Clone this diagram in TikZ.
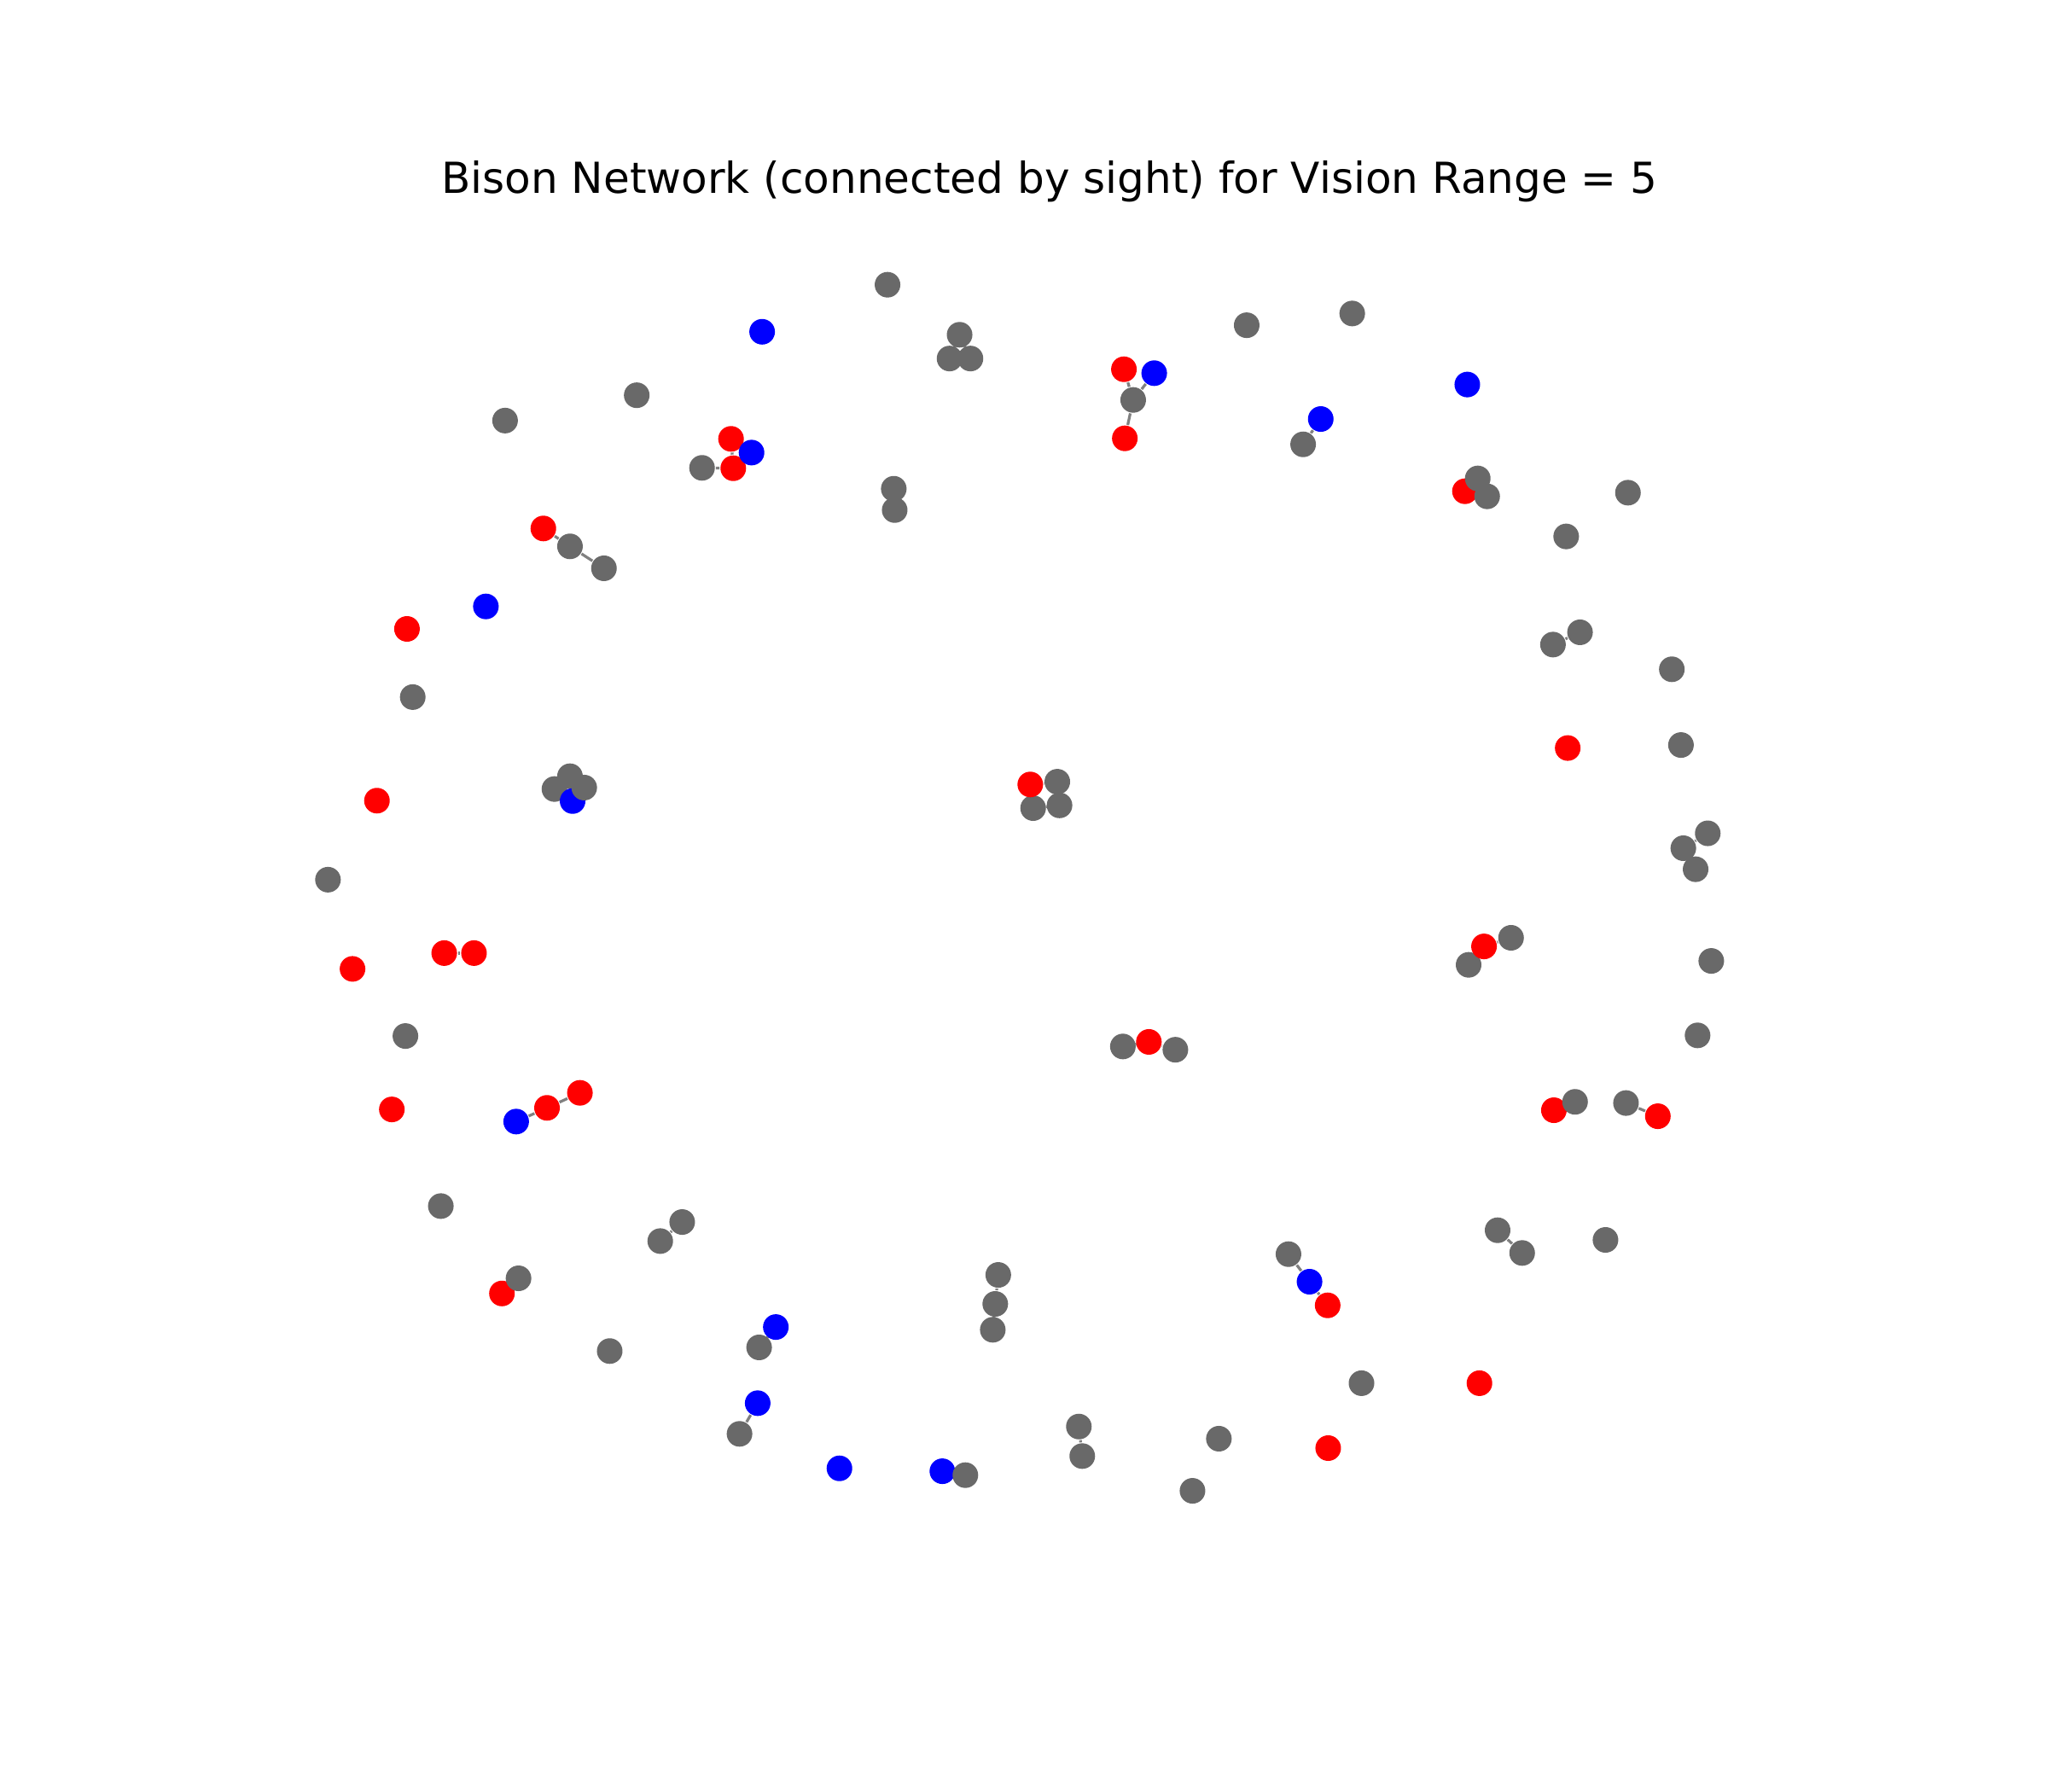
\documentclass[tikz,border=0pt]{standalone}
\usepackage{fontspec}
\setsansfont{DejaVu Sans}
\usetikzlibrary{backgrounds}
\definecolor{dimgrey}{HTML}{696969}

\begin{document}
\begin{tikzpicture}[x=0.01cm, y=-0.01cm,
  bison/.style={circle, inner sep=0pt, minimum size=0.196cm},
  link/.style={draw=gray, line width=0.6pt}]
  \useasboundingbox (0,0) rectangle (1568,1372);
  % titel
  \node[font=\sffamily\fontsize{9.3}{11}\selectfont, anchor=base] (title) at (803.5,148)
    {Bison Network (connected by sight) for Vision Range = 5};
  % bison (order = drawing order)
  \foreach \nm/\col/\px/\py in {
    g1/dimgrey/1124.4/738.7, g2/dimgrey/791/618.7, g3/dimgrey/424.5/604.1,
    g4/dimgrey/436.4/594.3, g5/dimgrey/581.2/1031.6,
    g6/dimgrey/679.5/218, g7/dimgrey/734.7/256.3, g8/dimgrey/727/274.5,
    g9/dimgrey/743/274.5, g10/dimgrey/487.5/302.6, g11/dimgrey/386.7/322,
    g12/dimgrey/537.5/358.2, g13/dimgrey/684.3/374.2, g14/dimgrey/685/390.5,
    g15/dimgrey/867.6/306.2, g16/dimgrey/954.5/249, g17/dimgrey/1035.3/240,
    g18/dimgrey/997.7/340.2, g19/dimgrey/1246.4/377.2, g20/dimgrey/1199.1/410.7,
    g21/dimgrey/1189/493.5, g22/dimgrey/1209.7/484.1, g23/dimgrey/1280/512.4,
    g24/dimgrey/1287/570.4, g25/dimgrey/1307.5/638, g26/dimgrey/1288.8/649.4,
    g27/dimgrey/1298.2/665.5, g28/dimgrey/1310.2/735.7, g29/dimgrey/1299.7/792.7,
    g30/dimgrey/859.7/801.2, g31/dimgrey/899.9/803.7, g32/dimgrey/1244.9/844.5,
    g33/dimgrey/1229.2/949.3, g34/dimgrey/1146.6/941.9, g35/dimgrey/1165.4/959.3,
    g36/dimgrey/986.5/960.2, g37/dimgrey/1042.4/1059, g38/dimgrey/933.2/1101.5,
    g39/dimgrey/913/1141.4, g40/dimgrey/826/1092.2, g41/dimgrey/828.6/1114.8,
    g42/dimgrey/764.3/976.1, g43/dimgrey/762/998.3, g44/dimgrey/760.1/1018.1,
    g45/dimgrey/566.2/1097.8, g46/dimgrey/466.8/1034.4, g47/dimgrey/522.3/935.6,
    g48/dimgrey/505.5/950.2, g49/dimgrey/337.5/923.4, g50/dimgrey/310.4/793.2,
    g51/dimgrey/251.1/673.5, g52/dimgrey/316/533.7, g53/dimgrey/436.4/418.3,
    g54/dimgrey/462.4/435.1,
    r1/red/559.7/336, r2/red/561.4/358.5, r3/red/860.5/282.7, r4/red/861.2/335.6,
    r5/red/1121.6/376.1, r6/red/1200.3/572.7, r7/red/1136.2/724.6,
    r8/red/879.6/797.7, r9/red/1189.7/850, r10/red/1269.3/854.6,
    r11/red/1016.5/999.4, r12/red/1132.7/1059, r13/red/1016.9/1108.7,
    r14/red/384.3/990.3, r15/red/300/849.4, r16/red/418.8/848.2, r17/red/444/836.7,
    r18/red/340.1/729.7, r19/red/362.9/729.7, r20/red/269.9/741.8,
    r21/red/288.6/613, r22/red/311.6/481.5, r23/red/416/404.6, r24/red/788.8/600.6,
    b1/blue/583.5/254, b2/blue/575.4/346.5, b3/blue/883.7/285.7,
    b4/blue/1011.2/320.8, b5/blue/1123.4/294.4, b6/blue/438.4/613.3,
    b7/blue/372/464.3, b8/blue/395.2/858.7, b9/blue/594/1016,
    b10/blue/580.1/1074.3, b11/blue/642.7/1124.2, b12/blue/721.5/1126.4,
    b13/blue/1002.6/981.3,
    g55/dimgrey/1156.9/718, g56/dimgrey/809.5/598.5, g57/dimgrey/811.2/616.6,
    g58/dimgrey/447.3/603, g59/dimgrey/1131.4/366.3, g60/dimgrey/1138.6/380,
    g61/dimgrey/1205.9/843.6, g62/dimgrey/739.1/1129.4, g63/dimgrey/397/978.7}
    \node[bison, fill=\col] (\nm) at (\px,\py) {};
  % sight links
  \begin{scope}[on background layer]
    \foreach \p/\q in {g12/r2, r1/r2, r1/b2, r2/b2, r3/g15, b3/g15, g15/r4,
        b4/g18, r5/g59, r5/g60, g59/g60, g21/g22, g26/g25, g26/g27,
        r7/g55, r7/g1, r8/g30, r8/g31, r9/g61, g32/r10, g34/g35,
        g36/b13, b13/r11, g40/g41, g42/g43, g43/g44, b12/g62, b10/g45,
        b9/g5, g47/g48, r14/g63, b8/r16, r16/r17, r18/r19, r23/g53,
        g53/g54, g13/g14, g3/g4, g4/g58, g3/b6, b6/g58, g7/g8, g7/g9,
        g8/g9, r24/g56, r24/g2, g2/g57, g56/g57}
      \draw[link] (\p) -- (\q);
  \end{scope}
\end{tikzpicture}
\end{document}
